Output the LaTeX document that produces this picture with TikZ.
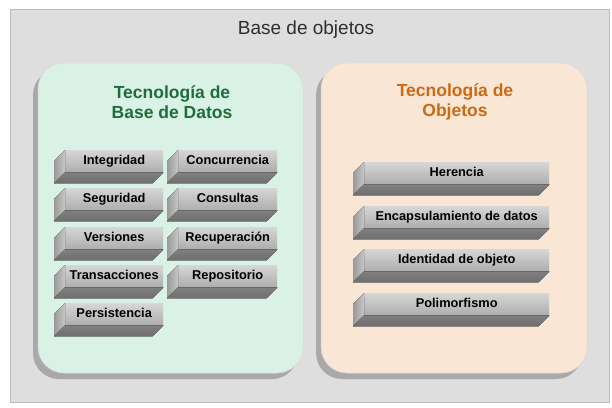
\documentclass[tikz,border=0pt]{standalone}
\usepackage{fontspec}
\setmainfont{Liberation Sans}
\usetikzlibrary{calc}
\definecolor{outerbg}{HTML}{DEDEDE}
\definecolor{outerline}{HTML}{BDBDBD}
\definecolor{mint}{HTML}{DAF1E5}
\definecolor{peach}{HTML}{FAE6D5}
\definecolor{panelshadow}{HTML}{A9A9A9}
\definecolor{greentitle}{HTML}{1E6E3C}
\definecolor{orangetitle}{HTML}{CC6A14}
\definecolor{titlegray}{HTML}{2E2E2E}
\tikzset{
  outerbox/.style={fill=outerbg, draw=outerline, line width=0.6pt},
  panelshade/.style={fill=panelshadow, rounded corners=26pt},
  panelbox/.style={draw=black!15, line width=0.5pt, rounded corners=26pt},
  paneltitle/.style={font=\bfseries\fontsize{17.5}{20}\selectfont, align=center},
  slabface/.style={rectangle, minimum height=22pt, inner sep=0pt,
    text height=9.5pt, text depth=2.5pt,
    top color=black!16, bottom color=black!32,
    font=\bfseries\fontsize{12.8}{14}\selectfont, text=black},
  leftshade/.style={left color=black!40, right color=black!22},
  bottomshade/.style={top color=black!50, bottom color=black!57},
}
\newcommand\myslab[5]{%
  \node[slabface, minimum width=#4pt, anchor=north west] (#1) at (#2,#3) {#5};
  \fill[leftshade] (#1.north west) -- (#1.south west) -- ++(-11,11) -- ($(#1.north west)+(-11,11)$) -- cycle;
  \fill[bottomshade] (#1.south west) -- (#1.south east) -- ++(-11,11) -- ($(#1.south west)+(-11,11)$) -- cycle;
}
\begin{document}
\begin{tikzpicture}[x=1pt,y=-1pt]
\useasboundingbox (0,0) rectangle (612,407);
\fill[white] (0,0) rectangle (612,407);
\draw[outerbox] (10,9) rectangle (609,402);
\node[font=\fontsize{19}{22}\selectfont, text=titlegray] (maintitle) at (306,30) {Base de objetos};
% panels
\fill[panelshade] (33,69) rectangle (298,379);
\fill[mint] [rounded corners=26pt] (38,63) rectangle (303,373);
\draw[panelbox] (38,63) rectangle (303,373);
\fill[panelshade] (316,69) rectangle (582,379);
\fill[peach] [rounded corners=26pt] (321,63) rectangle (587,373);
\draw[panelbox] (321,63) rectangle (587,373);
\node[paneltitle, text=greentitle] (dbtitle) at (172,102) {Tecnología de\\Base de Datos};
\node[paneltitle, text=orangetitle] (objtitle) at (455,102) {Tecnología de\\Objetos};
% left boxes
\myslab{integ}{65}{150}{98}{Integridad}
\myslab{segur}{65}{188}{98}{Seguridad}
\myslab{vers}{65}{227}{98}{Versiones}
\myslab{trans}{65}{265}{98}{Transacciones}
\myslab{pers}{65}{303}{98}{Persistencia}
\myslab{conc}{178}{150}{99}{Concurrencia}
\myslab{cons}{178}{188}{99}{Consultas}
\myslab{recu}{178}{227}{99}{Recuperación}
\myslab{repo}{178}{265}{99}{Repositorio}
% right boxes
\myslab{her}{364}{162}{185}{Herencia}
\myslab{encap}{364}{206}{185}{Encapsulamiento de datos}
\myslab{ident}{364}{249}{185}{Identidad de objeto}
\myslab{poli}{364}{293}{185}{Polimorfismo}
\end{tikzpicture}
\end{document}
